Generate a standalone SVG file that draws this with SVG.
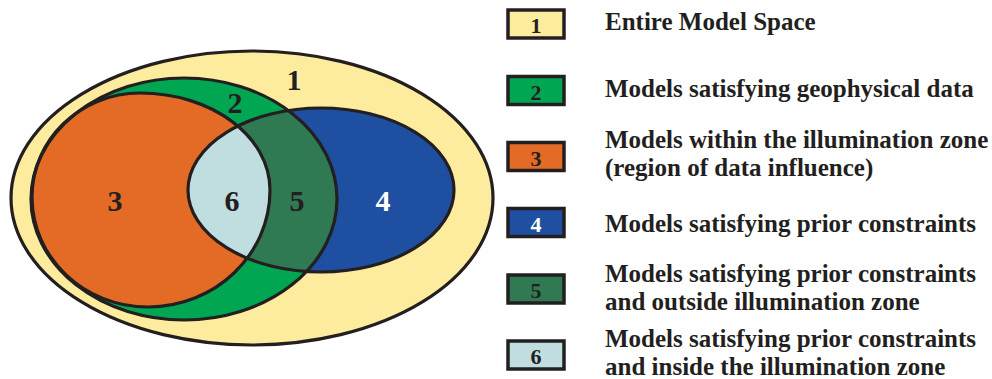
<svg xmlns="http://www.w3.org/2000/svg" xmlns:xlink="http://www.w3.org/1999/xlink" width="992" height="379" viewBox="0 0 992 379">
  <style>
    .ln { fill: none; stroke: #231F20; stroke-width: 3.2; }
    .lbl { font-family: "Liberation Serif", "Times New Roman", serif; font-weight: bold; font-size: 30px; fill: #231F20; text-anchor: middle; }
    .box { stroke: #231F20; stroke-width: 3.5; }
    .bnum { font-family: "Liberation Serif", "Times New Roman", serif; font-weight: bold; font-size: 22px; fill: #231F20; text-anchor: middle; }
    .txt { font-family: "Liberation Serif", "Times New Roman", serif; font-weight: bold; font-size: 25px; fill: #231F20; }
    .c1 { fill: #FDEC9E; } .c2 { fill: #00A651; } .c3 { fill: #E46B25; }
    .c4 { fill: #1F4FA0; } .c5 { fill: #2F7A53; } .c6 { fill: #C0DEDF; }
  </style>
  <defs>
    <ellipse id="e1" cx="252" cy="198" rx="241" ry="147"/>
    <ellipse id="e2" cx="184" cy="199" rx="153" ry="121"/>
    <ellipse id="e4" cx="321" cy="190" rx="133" ry="82"/>
    <path id="e3" d="M32,197 C32,139.6 80.4,93 140,93 C211.8,93 270,136.4 270,190 C270,254.6 215.4,307 148,307 C83.9,307 32,257.8 32,197 Z"/>
    <clipPath id="clipGreen"><use xlink:href="#e2"/></clipPath>
    <clipPath id="clipBlue"><use xlink:href="#e4"/></clipPath>
  </defs>

  <g id="diagram">
    <g id="region-1"><use xlink:href="#e1" class="c1"/></g>
    <g id="region-2"><use xlink:href="#e2" class="c2"/></g>
    <g id="region-4"><use xlink:href="#e4" class="c4"/></g>
    <g id="region-5"><use xlink:href="#e4" class="c5" clip-path="url(#clipGreen)"/></g>
    <g id="region-3"><use xlink:href="#e3" class="c3"/></g>
    <g id="region-6"><use xlink:href="#e3" class="c6" clip-path="url(#clipBlue)"/></g>
    <g id="outlines">
      <use xlink:href="#e1" class="ln"/>
      <use xlink:href="#e2" class="ln"/>
      <use xlink:href="#e4" class="ln"/>
      <use xlink:href="#e3" class="ln"/>
    </g>
    <g id="labels">
      <text class="lbl" x="294" y="90">1</text>
      <text class="lbl" x="235" y="113">2</text>
      <text class="lbl" x="115" y="211">3</text>
      <text class="lbl" x="383" y="211" style="fill:#FFFFFF">4</text>
      <text class="lbl" x="297" y="211">5</text>
      <text class="lbl" x="232" y="211">6</text>
    </g>
  </g>

  <g id="legend">
    <g id="legend-1">
      <rect class="box c1" x="508" y="10" width="56" height="28"/>
      <text class="bnum" x="536" y="33">1</text>
      <text class="txt" x="605" y="30">Entire Model Space</text>
    </g>
    <g id="legend-2">
      <rect class="box c2" x="508" y="76.5" width="56" height="28"/>
      <text class="bnum" x="536" y="99.5">2</text>
      <text class="txt" x="605" y="96.7">Models satisfying geophysical data</text>
    </g>
    <g id="legend-3">
      <rect class="box c3" x="508" y="142.5" width="56" height="28"/>
      <text class="bnum" x="536" y="165.5">3</text>
      <text class="txt" x="605" y="147.5">Models within the illumination zone</text>
      <text class="txt" x="605" y="176">(region of data influence)</text>
    </g>
    <g id="legend-4">
      <rect class="box c4" x="508" y="208.5" width="56" height="28"/>
      <text class="bnum" x="536" y="231.5" style="fill:#FFFFFF">4</text>
      <text class="txt" x="605" y="232.3">Models satisfying prior constraints</text>
    </g>
    <g id="legend-5">
      <rect class="box c5" x="508" y="275" width="56" height="28"/>
      <text class="bnum" x="536" y="298">5</text>
      <text class="txt" x="605" y="282.3">Models satisfying prior constraints</text>
      <text class="txt" x="605" y="310">and outside illumination zone</text>
    </g>
    <g id="legend-6">
      <rect class="box c6" x="508" y="341" width="56" height="28"/>
      <text class="bnum" x="536" y="364">6</text>
      <text class="txt" x="605" y="347.3">Models satisfying prior constraints</text>
      <text class="txt" x="605" y="374.5">and inside the illumination zone</text>
    </g>
  </g>
</svg>
